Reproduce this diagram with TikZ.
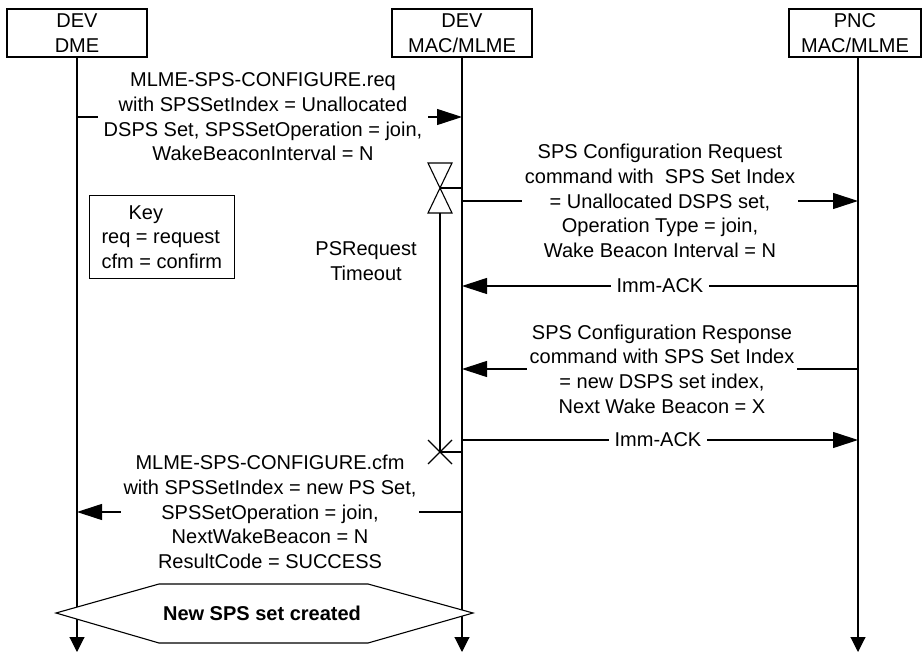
\documentclass[tikz,border=0pt]{standalone}
\usepackage{fontspec}
\setmainfont{Liberation Sans}
\usetikzlibrary{arrows.meta}
\begin{document}
\begin{tikzpicture}[x=1pt,y=-1pt,
  every node/.style={font=\fontsize{20}{24.6}\selectfont},
  ln/.style={line width=1.1pt},
  ent/.style={draw, line width=1.1pt, minimum width=140pt, minimum height=48pt, align=center, inner sep=0pt},
  msg/.style={line width=1.1pt, -{Triangle[length=25pt,width=16pt]}},
  life/.style={line width=1.1pt, -{Triangle[length=15pt,width=15pt]}},
  lbl/.style={fill=white, align=center, inner xsep=3pt, inner ysep=0pt},
  ack/.style={fill=white, inner xsep=6pt, inner ysep=0pt},
]
\useasboundingbox (0,0) rectangle (922,655);
% entities
\node[ent] (dme) at (77,33) {DEV\\DME};
\node[ent] (mac) at (462,33) {DEV\\MAC/MLME};
\node[ent, minimum width=132pt] (pnc) at (855,33) {PNC\\MAC/MLME};
% lifeline ends
\coordinate (dmeE) at (77,652);
\coordinate (macE) at (462,652);
\coordinate (pncE) at (858,652);
\draw[life] (dme.south) -- (dmeE);
\draw[life] (mac.south) -- (macE);
\draw[life] (pnc.south -| pncE) -- (pncE);
% message 1
\coordinate (a1) at (77,117); \coordinate (b1) at (462,117);
\draw[msg] (a1) -- (b1);
\node[lbl, inner xsep=6pt] (t1) at (263,117) {MLME-SPS-CONFIGURE.req\\with SPSSetIndex = Unallocated\\DSPS Set, SPSSetOperation = join,\\WakeBeaconInterval = N};
% timer
\coordinate (tm) at (440,188);
\coordinate (tmL) at (462,188);
\coordinate (tb) at (440,213);
\coordinate (tx) at (440,452);
\coordinate (txL) at (462,452);
\draw[ln] (428,163) -- (452,163) -- (428,213) -- (452,213) -- cycle;
\draw[ln] (tm) -- (tmL);
\draw[ln] (tb) -- (tx);
\draw[ln] (428,440) -- (452,464) (428,464) -- (452,440);
\draw[ln] (tx) -- (txL);
\node[align=center] (ps) at (366,261) {PSRequest\\Timeout};
% key
\node[draw, line width=1.1pt, anchor=north west, align=left, minimum height=83pt, inner xsep=12pt, inner ysep=0pt] (key) at (89,195) {\hspace*{27pt}Key\\req = request\\cfm = confirm};
% message 2
\coordinate (a2) at (462,201); \coordinate (b2) at (858,201);
\draw[msg] (a2) -- (b2);
\node[lbl] (t2) at (660,201) {SPS Configuration Request\\command with~ SPS Set Index\\= Unallocated DSPS set,\\Operation Type = join,\\Wake Beacon Interval = N};
% imm-ack 1
\coordinate (a3) at (858,286); \coordinate (b3) at (462,286);
\draw[msg] (a3) -- (b3);
\node[ack] (t3) at (660,286) {Imm-ACK};
% message 3
\coordinate (a4) at (858,369); \coordinate (b4) at (462,369);
\draw[msg] (a4) -- (b4);
\node[lbl] (t4) at (662,369) {SPS Configuration Response\\command with SPS Set Index\\= new DSPS set index,\\Next Wake Beacon = X};
% imm-ack 2
\coordinate (a5) at (462,440); \coordinate (b5) at (858,440);
\draw[msg] (a5) -- (b5);
\node[ack] (t5) at (658,440) {Imm-ACK};
% message 4
\coordinate (a6) at (462,512); \coordinate (b6) at (77,512);
\draw[msg] (a6) -- (b6);
\node[lbl] (t6) at (270,512) {MLME-SPS-CONFIGURE.cfm\\with SPSSetIndex = new PS Set,\\SPSSetOperation = join,\\NextWakeBeacon = N\\ResultCode = SUCCESS};
% hexagon
\draw[ln, fill=white] (56,613) -- (159,584) -- (368,584) -- (473,613) -- (368,643) -- (159,643) -- cycle;
\node[font=\fontsize{20}{24}\selectfont\bfseries] (hx) at (262,613) {New SPS set created};
\end{tikzpicture}
\end{document}
